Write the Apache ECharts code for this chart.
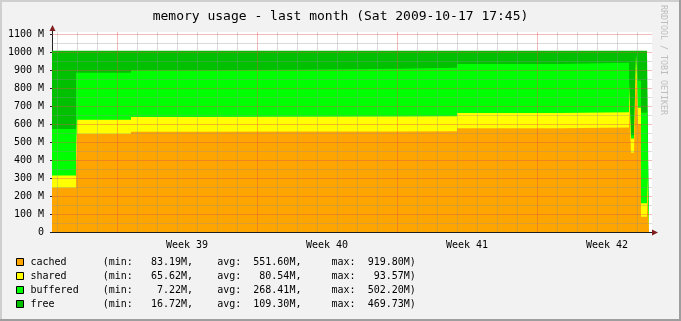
<!DOCTYPE html>
<html>
<head>
<meta charset="utf-8">
<script src="https://cdn.jsdelivr.net/npm/echarts@6/dist/echarts.min.js"></script>
<style>html,body{margin:0;padding:0;background:#F2F2F2;}#c{width:681px;height:321px;}</style>
</head>
<body>
<div id="c"></div>
<script>
// ---- data (hours since Thu 2009-09-17 18:00; values in MB) ----
const hours    = [0,   28.8, 30,  94.8, 177.6, 297.6, 417.6, 486, 609.6, 692.4, 694.8, 698.4, 700.8, 703.2, 706.8, 714, 716.4];
const cached   = [246, 364,  544, 557,  558,   559,   560,   576, 581,   725,   440,   445,   915,   600,   85,    230, 230];
const shared   = [68,  76,   80,  82,   82,    83,    83,    85,  84,    93,    80,    78,    66,    90,    75,    80,  80];
const buffered = [258, 445,  261, 259,  262,   265,   269,   272, 275,   32,    18,    20,    8,     150,   502,   480, 480];
const free     = [435, 122,  122, 109,  105,   100,   95,    74,  67,    157,   469,   464,   18,    167,   345,   217, 217];

const seriesNames = ['cached', 'shared', 'buffered', 'free'];
const seriesColors = ['#FFA500', '#FFFF00', '#00FF00', '#00C000'];
const statMin = ['83.19', '65.62', '7.22', '16.72'];
const statAvg = ['551.60', '80.54', '268.41', '109.30'];
const statMax = ['919.80', '93.57', '502.20', '469.73'];

const weekLabels = ['Week 39', 'Week 40', 'Week 41', 'Week 42'];
const weekLabelHours = [162, 330, 498, 666];
const dayLineHours = [];      // midnight of each day
for (let h = 6; h < 720; h += 24) dayLineHours.push(h);
const weekLineHours = [78, 246, 414, 582]; // Monday 00:00
const yMajor = [100,200,300,400,500,600,700,800,900,1000,1100];
const yMinor = [50,150,250,350,450,550,650,750,850,950,1050];

const title = 'memory usage - last month (Sat 2009-10-17 17:45)';

// ---- build ----
const valuesBy = [cached, shared, buffered, free];
const mono = 'DejaVu Sans Mono';
function legendText(i) {
  return seriesNames[i].padEnd(12) + '(min: ' + statMin[i].padStart(7) + 'M,    avg: ' +
    statAvg[i].padStart(7) + 'M,     max: ' + statMax[i].padStart(7) + 'M)';
}
const GRID_MINOR = 'rgba(143,143,143,0.32)';
const GRID_MAJOR = 'rgba(222,79,79,0.38)';

// cumulative tops (stack computed here), drawn back-to-front
const tops = valuesBy.map((arr, i) => hours.map((h, k) => {
  let s = 0; for (let j = 0; j <= i; j++) s += valuesBy[j][k]; return s;
}));

const series = [];
for (let i = seriesNames.length - 1; i >= 0; i--) {
  series.push({
    name: seriesNames[i], type: 'line', step: 'end',
    data: hours.map((h, k) => [h, tops[i][k]]),
    symbol: 'none', showSymbol: false, color: seriesColors[i],
    lineStyle: { width: 0 },
    areaStyle: { color: seriesColors[i], opacity: 1 },
    animation: false, silent: true, z: 2
  });
}

const gridLines = [];
dayLineHours.filter(h => !weekLineHours.includes(h)).forEach(h => gridLines.push({ xAxis: h, lineStyle: { color: GRID_MINOR } }));
yMinor.forEach(v => gridLines.push({ yAxis: v, lineStyle: { color: GRID_MINOR } }));
weekLineHours.forEach(h => gridLines.push({ xAxis: h, lineStyle: { color: GRID_MAJOR } }));
yMajor.forEach(v => gridLines.push({ yAxis: v, lineStyle: { color: GRID_MAJOR } }));

series.push({
  name: '_grid', type: 'line', data: [], z: 5, silent: true, animation: false,
  markLine: { silent: true, symbol: ['none', 'none'], animation: false, label: { show: false },
    lineStyle: { width: 1, type: 'solid' }, data: gridLines }
});

const chart = echarts.init(document.getElementById('c'), null, { renderer: 'canvas' });
chart.setOption({
  backgroundColor: '#F2F2F2',
  animation: false,
  title: { text: title, left: 'center', top: 10, padding: 0,
    textStyle: { fontFamily: mono, fontSize: 13, fontWeight: 'normal', color: '#000' } },
  grid: { left: 52, top: 32, width: 600, height: 200, show: true, backgroundColor: '#FFFFFF', borderWidth: 0 },
  xAxis: {
    type: 'value', min: 0, max: 720,
    axisLine: { show: true, onZero: false, lineStyle: { color: '#1F1F1F', width: 1 } },
    axisTick: { show: false },
    splitLine: { show: false },
    axisLabel: { customValues: weekLabelHours, margin: 8,
      formatter: v => weekLabels[weekLabelHours.indexOf(v)] || '',
      fontFamily: mono, fontSize: 10, color: '#000' }
  },
  yAxis: {
    type: 'value', min: 0, max: 1111.1, interval: 100,
    axisLine: { show: true, lineStyle: { color: '#1F1F1F', width: 1 } },
    axisTick: { show: true, length: 2, lineStyle: { color: '#1F1F1F' } },
    splitLine: { show: false },
    axisLabel: { showMaxLabel: false, margin: 8, fontFamily: mono, fontSize: 10, color: '#000',
      formatter: v => v === 0 ? '0' : v + ' M' }
  },
  legend: {
    orient: 'vertical', left: 16, top: 255, padding: 0, itemGap: 0, itemWidth: 7, itemHeight: 7,
    icon: 'rect', selectedMode: false,
    data: seriesNames,
    itemStyle: { borderColor: '#000', borderWidth: 1 },
    textStyle: { fontFamily: mono, fontSize: 10, color: '#000', lineHeight: 14, padding: [0, 0, 0, 2] },
    formatter: name => legendText(seriesNames.indexOf(name))
  },
  graphic: [
    { type: 'rect', shape: { x: 0, y: 0, width: 681, height: 2 }, style: { fill: '#CFCFCF' }, silent: true },
    { type: 'rect', shape: { x: 0, y: 0, width: 2, height: 321 }, style: { fill: '#CFCFCF' }, silent: true },
    { type: 'rect', shape: { x: 679, y: 0, width: 2, height: 321 }, style: { fill: '#9E9E9E' }, silent: true },
    { type: 'rect', shape: { x: 0, y: 319, width: 681, height: 2 }, style: { fill: '#9E9E9E' }, silent: true },
    { type: 'line', shape: { x1: 52.5, y1: 32, x2: 52.5, y2: 29 }, style: { stroke: '#1F1F1F', lineWidth: 1 }, silent: true, z: 20 },
    { type: 'polygon', shape: { points: [[49.5, 31], [55.5, 31], [52.5, 25]] }, style: { fill: '#801F1F' }, silent: true, z: 20 },
    { type: 'line', shape: { x1: 652, y1: 232.5, x2: 654, y2: 232.5 }, style: { stroke: '#1F1F1F', lineWidth: 1 }, silent: true, z: 20 },
    { type: 'polygon', shape: { points: [[652, 229.5], [652, 235.5], [658, 232.5]] }, style: { fill: '#801F1F' }, silent: true, z: 20 },
    { type: 'text', x: 667, y: 5, rotation: -Math.PI / 2, silent: true,
      style: { text: 'RRDTOOL / TOBI OETIKER', fontFamily: mono, fontSize: 8.3, fill: '#BDBDBD',
        textAlign: 'left', textVerticalAlign: 'top' } }
  ],
  series: series
});
</script>
</body>
</html>
